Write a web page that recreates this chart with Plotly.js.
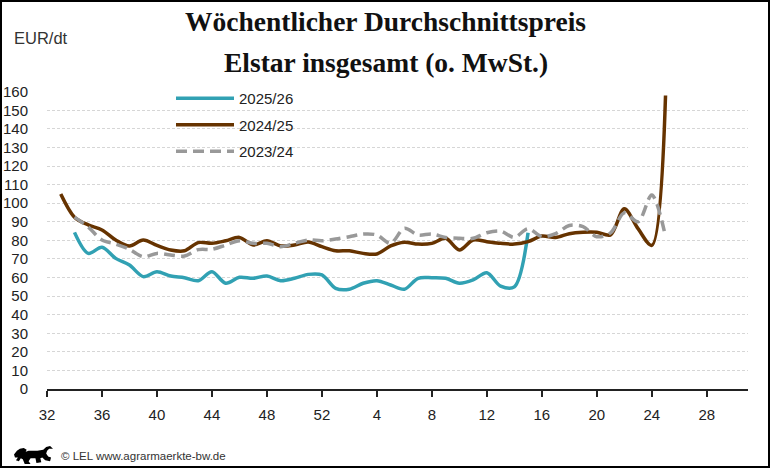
<!DOCTYPE html>
<html><head><meta charset="utf-8">
<script src="https://cdn.plot.ly/plotly-3.0.1.min.js"></script>
<style>
html,body{margin:0;padding:0;background:#fff;}
#wrap{position:relative;width:771px;height:469px;overflow:hidden;}
#chart{width:771px;height:469px;}
#frame{position:absolute;left:0;top:0;width:770px;height:468px;box-sizing:border-box;border:2px solid #000;pointer-events:none;}
</style>
</head><body>
<div id="wrap"><div id="chart"></div><div id="frame"></div></div>
<script>
// Kalenderwochen (Saison KW 32 bis KW 31)
const weeks = ["32","33","34","35","36","37","38","39","40","41","42","43","44","45","46","47","48","49","50","51","52",
  "1","2","3","4","5","6","7","8","9","10","11","12","13","14","15","16","17","18","19","20","21","22","23","24","25","26","27","28","29","30","31"];

const s2025 = [null,null,84.3,73,76.3,70.3,66.7,60.5,63.1,60.8,59.9,58.3,63.1,56.9,60.1,59.6,60.8,58.3,59.6,61.7,61.4,
  54.2,53.7,56.9,58.3,56,53.7,59.6,59.9,59.6,56.9,58.7,62.6,55.4,55,84.1,
  null,null,null,null,null,null,null,null,null,null,null,null,null,null,null,null];

const s2024 = [null,105,92.5,88.3,85.6,80.2,77,80.2,77.3,74.8,74.4,78.8,78.4,79.8,81.6,77.5,79.8,77,77.5,79.1,76.6,
  74.4,74.4,73,72.7,77,79,78,78.4,81.1,74.8,80.2,79.3,78.4,78,79.3,82.3,81.5,83.6,84.4,84.4,83,97,86.3,77.3,158,
  null,null,null,null,null,null];

const s2023 = [null,null,92.5,87.2,80.2,78,75.2,71.2,73,72.1,71.6,75,75.2,77.5,79.8,78.4,78.4,76.6,78.4,80.2,79.8,
  80.7,82,83.4,82.9,78.4,86.5,82.9,83.4,81.6,81.1,81.1,84.1,85,81.6,86.3,82,83.6,88,87.4,82,84,94.8,90,104.4,82,
  null,null,null,null,null,null];

const seriesNames = ["2025/26","2024/25","2023/24"];
const yTicks = [0,10,20,30,40,50,60,70,80,90,100,110,120,130,140,150,160];

const lion = "data:image/svg+xml;utf8," + encodeURIComponent(
  '<svg xmlns="http://www.w3.org/2000/svg" viewBox="0 0 40 20"><path fill="#000" d="M0,9 L3,5 L6,3 L10,2 L13,4 L12,6 L15,5 L24,5 L30,4 L33,1 L37,0 L40,3 L36,3 L34,5 L33,8 L35,11 L38,12 L37,16 L32,15 L29,12 L27,13 L28,17 L23,18 L22,13 L17,13 L15,16 L17,19 L11,19 L9,14 L7,13 L5,16 L2,15 L4,12 L1,12 Z"/></svg>');

const font = "Liberation Sans, Arial, sans-serif";
const serif = "Liberation Serif, Times New Roman, serif";

const traces = [
  {x: weeks, y: s2025, name: seriesNames[0], type: "scatter", mode: "lines",
   line: {color: "#31A1B3", width: 3.5, shape: "spline", smoothing: 0.9}, legendgroup: "a"},
  {x: weeks, y: s2024, name: seriesNames[1], type: "scatter", mode: "lines",
   line: {color: "#663300", width: 3.5, shape: "spline", smoothing: 0.9}, legendgroup: "b"},
  {x: weeks, y: s2023, name: seriesNames[2], type: "scatter", mode: "lines",
   line: {color: "#999999", width: 3.5, shape: "spline", smoothing: 0.9, dash: "11px,6px"}, legendgroup: "c"}
];

const layout = {
  width: 771, height: 469,
  margin: {l: 47, r: 23, t: 91, b: 80},
  paper_bgcolor: "#fff", plot_bgcolor: "#fff",
  font: {family: font, size: 15, color: "#222"},
  title: {
    text: "Wöchentlicher Durchschnittspreis",
    font: {family: serif, size: 27.5, color: "#111", weight: "bold"},
    x: 0.5, xanchor: "center", xref: "container",
    y: 1 - 21/469, yanchor: "middle", yref: "container"
  },
  showlegend: true,
  legend: {
    x: (171-47)/701, xanchor: "left", y: (389-82)/298, yanchor: "top",
    bgcolor: "rgba(0,0,0,0)", font: {family: font, size: 15, color: "#222"},
    itemwidth: 58, tracegroupgap: 4, traceorder: "grouped"
  },
  xaxis: {
    type: "category", categoryorder: "array", categoryarray: weeks,
    range: [0, 51], tickmode: "linear", tick0: 0, dtick: 4,
    showgrid: false, showline: true, linecolor: "#222", linewidth: 2,
    ticks: "outside", ticklen: 6, tickwidth: 2, tickcolor: "#222",
    ticklabelstandoff: 5,
    tickfont: {family: font, size: 15, color: "#222"}, zeroline: false, fixedrange: true
  },
  yaxis: {
    range: [0, 160.4], tickmode: "array", tickvals: yTicks,
    showgrid: true, gridcolor: "#d6d6d6", gridwidth: 1, griddash: "3px,2px",
    zeroline: false, showline: false, ticks: "",
    ticklabelstandoff: 18,
    tickfont: {family: font, size: 15, color: "#222"}, fixedrange: true
  },
  annotations: [
    {text: "Elstar insgesamt (o. MwSt.)", xref: "paper", yref: "paper", x: (385.5-47)/701, y: (389-62)/298,
     xanchor: "center", yanchor: "middle", showarrow: false, font: {family: serif, size: 27.5, color: "#111", weight: "bold"}},
    {text: "EUR/dt", xref: "paper", yref: "paper", x: (12-47)/701, y: (389-38)/298,
     xanchor: "left", yanchor: "middle", showarrow: false, font: {family: font, size: 16.5, color: "#333"}},
    {text: "© LEL www.agrarmaerkte-bw.de", xref: "paper", yref: "paper", x: (59-47)/701, y: (389-455.5)/298,
     xanchor: "left", yanchor: "middle", showarrow: false, font: {family: font, size: 11.5, color: "#333"}}
  ],
  images: [
    {source: lion, xref: "paper", yref: "paper", x: (14-47)/701, y: (389-446)/298,
     sizex: 39/701, sizey: 19/298, xanchor: "left", yanchor: "top", sizing: "stretch", layer: "above"}
  ]
};

Plotly.newPlot("chart", traces, layout, {displayModeBar: false, staticPlot: true});
</script>
</body></html>
